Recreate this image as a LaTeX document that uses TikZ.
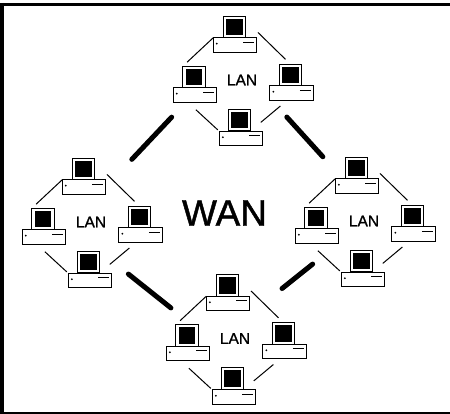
\documentclass[tikz,border=0pt]{standalone}
\usepackage{fontspec}
\setmainfont{Liberation Sans}
\newfontfamily\wanfont[FakeBold=1.2]{Liberation Sans}
\tikzset{
pc/.style={rectangle, draw, line width=.9pt, fill=white, inner sep=0pt, outer sep=0pt, minimum width=43.5pt, minimum height=14.5pt,
  path picture={
    \fill[black] ([shift={(3.5,6)}]path picture bounding box.north west) circle (1);
    \draw[line width=1pt] ([shift={(30,4.7)}]path picture bounding box.north west) -- ([shift={(41,4.7)}]path picture bounding box.north west);
  }},
mon/.style={rectangle, draw, line width=1pt, fill=white, inner sep=0pt, outer sep=0pt, minimum width=22.5pt, minimum height=21.5pt,
  path picture={
    \fill[black] ([shift={(3,2.5)}]path picture bounding box.north west) rectangle ([shift={(-3,-2.5)}]path picture bounding box.south east);
  }},
lan/.style={font=\wanfont\fontsize{15.5}{15.5}\selectfont, inner sep=0pt},
lanlink/.style={line width=1pt},
linkTL/.style={lanlink, shorten >=6pt},
linkTR/.style={lanlink, shorten <=17pt, shorten >=7pt},
linkLB/.style={lanlink, shorten <=11pt, shorten >=2pt},
linkRB/.style={lanlink, shorten <=9pt, shorten >=13pt},
wan/.style={line width=5pt, line cap=round},
frame/.style={line width=3.5pt}
}
\begin{document}
\begin{tikzpicture}[x=1pt,y=-1pt]
\useasboundingbox (0,0) rectangle (450,414);
% frame
\coordinate (c0) at (0,4.5);
\coordinate (c1) at (450,4.5);
\coordinate (c2) at (2.2,3);
\coordinate (c3) at (2.2,414);
\coordinate (c4) at (0,413);
\coordinate (c5) at (450,413);
\draw[frame] (c0) -- (c1);
\draw[frame] (c2) -- (c3);
\draw[line width=2pt] (c4) -- (c5);
% top
\node[pc] (pc0) at (235,45){};
\node[mon] (mon0) at (234.5,27){};
\node[pc] (pc1) at (195,95){};
\node[mon] (mon1) at (194,77){};
\node[pc] (pc2) at (291.5,93){};
\node[mon] (mon2) at (290.5,75){};
\node[pc] (pc3) at (241,138.5){};
\node[mon] (mon3) at (239.5,120){};
\node[lan] (lan0) at (242,80){LAN};
\draw[linkTL](pc0.north west) -- (mon1.north west);
\draw[linkTR](mon0.30) -- (mon2.north);
\draw[linkLB](pc1.-135) -- (pc3.north west);
\draw[linkRB](pc2.-120) -- (mon3.south east);
% left
\node[pc] (pc4) at (84,187){};
\node[mon] (mon4) at (83.5,169){};
\node[pc] (pc5) at (44,237){};
\node[mon] (mon5) at (43,219){};
\node[pc] (pc6) at (140.5,235){};
\node[mon] (mon6) at (139.5,217){};
\node[pc] (pc7) at (90,280.5){};
\node[mon] (mon7) at (88.5,262){};
\node[lan] (lan1) at (91,222){LAN};
\draw[linkTL](pc4.north west) -- (mon5.north west);
\draw[linkTR](mon4.30) -- (mon6.north);
\draw[linkLB](pc5.-135) -- (pc7.north west);
\draw[linkRB](pc6.-120) -- (mon7.south east);
% right
\node[pc] (pc8) at (357,186){};
\node[mon] (mon8) at (356.5,168){};
\node[pc] (pc9) at (317,236){};
\node[mon] (mon9) at (316,218){};
\node[pc] (pc10) at (413.5,234){};
\node[mon] (mon10) at (412.5,216){};
\node[pc] (pc11) at (363,279.5){};
\node[mon] (mon11) at (361.5,261){};
\node[lan] (lan2) at (364,221){LAN};
\draw[linkTL](pc8.north west) -- (mon9.north west);
\draw[linkTR](mon8.30) -- (mon10.north);
\draw[linkLB](pc9.-135) -- (pc11.north west);
\draw[linkRB](pc10.-120) -- (mon11.south east);
% bottom
\node[pc] (pc12) at (228,303.5){};
\node[mon] (mon12) at (227.5,285.5){};
\node[pc] (pc13) at (188,353.5){};
\node[mon] (mon13) at (187,335.5){};
\node[pc] (pc14) at (284.5,351.5){};
\node[mon] (mon14) at (283.5,333.5){};
\node[pc] (pc15) at (234,397){};
\node[mon] (mon15) at (232.5,378.5){};
\node[lan] (lan3) at (235,338.5){LAN};
\draw[linkTL](pc12.north west) -- (mon13.north west);
\draw[linkTR](mon12.30) -- (mon14.north);
\draw[linkLB](pc13.-135) -- (pc15.north west);
\draw[linkRB](pc14.-120) -- (mon15.south east);
% WAN
\node[font=\wanfont\fontsize{37}{37}\selectfont, inner sep=0pt] (wan0) at (224.5,213){WAN};
\draw[wan, shorten <=20.5pt, shorten >=38pt](pc1.-142) -- (pc4.east);
\draw[wan, shorten <=22.7pt, shorten >=29.7pt](pc2.-160) -- (pc8.153);
\draw[wan, shorten <=36.6pt, shorten >=27pt](mon7.north east) -- (mon13.65);
\draw[wan, shorten <=92.5pt, shorten >=33.4pt](pc13.north east) -- (pc9.south east);
\end{tikzpicture}
\end{document}
